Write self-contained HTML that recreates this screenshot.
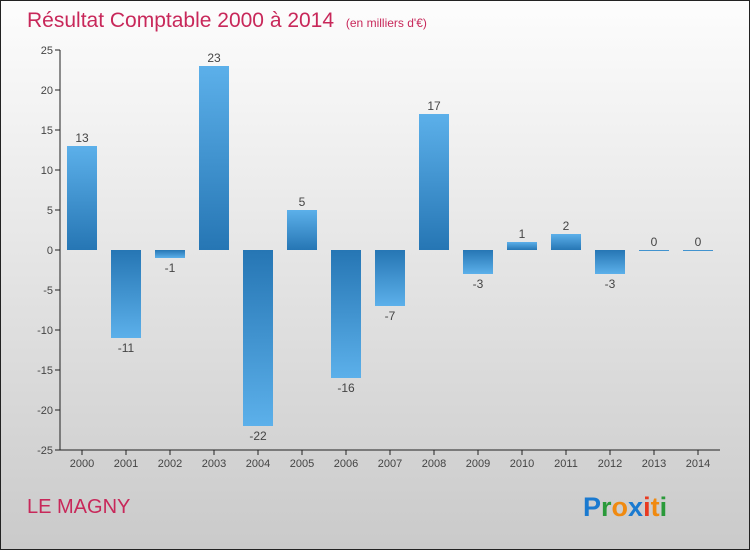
<!DOCTYPE html>
<html><head><meta charset="utf-8"><style>
body{margin:0;width:750px;height:550px;overflow:hidden}
svg{display:block;font-family:"Liberation Sans",sans-serif}
</style></head><body>
<svg id="c" width="750" height="550">
<defs>
<linearGradient id="bg" x1="0" y1="0" x2="0" y2="1"><stop offset="0" stop-color="#fdfdfd"/><stop offset="1" stop-color="#cacaca"/></linearGradient>
<linearGradient id="gp" x1="0" y1="0" x2="0" y2="1"><stop offset="0" stop-color="#5cb0ea"/><stop offset="1" stop-color="#2676b4"/></linearGradient>
<linearGradient id="gn" x1="0" y1="0" x2="0" y2="1"><stop offset="0" stop-color="#2676b4"/><stop offset="1" stop-color="#5cb0ea"/></linearGradient>
</defs>
<rect x="0.5" y="0.5" width="749" height="549" fill="url(#bg)" stroke="#222"/>
<text x="27" y="27" font-size="21" fill="#c8285a">Résultat Comptable 2000 à 2014 <tspan font-size="12" dx="6">(en milliers d'€)</tspan></text>
<text x="27" y="513" font-size="20" fill="#c8285a">LE MAGNY</text>
<g id="axes"></g><g id="bars"></g>
<text x="583" y="516" font-size="27" font-weight="bold"><tspan fill="#1a7ad0">P</tspan><tspan fill="#2a9a3a">r</tspan><tspan fill="#f08a10">o</tspan><tspan fill="#1a7ad0">x</tspan><tspan fill="#e83a20">i</tspan><tspan fill="#f08a10">t</tspan><tspan fill="#2a9a3a">i</tspan></text>
</svg>
<script>
const years=[2000,2001,2002,2003,2004,2005,2006,2007,2008,2009,2010,2011,2012,2013,2014];
const values=[13,-11,-1,23,-22,5,-16,-7,17,-3,1,2,-3,0,0];
const yTicks=[25,20,15,10,5,0,-5,-10,-15,-20,-25];
const NS="http://www.w3.org/2000/svg";
const y=v=>250-v*8, x=i=>82+i*44;
const ax=document.getElementById('axes'), bs=document.getElementById('bars');
function mk(t,a,p){const e=document.createElementNS(NS,t);for(const k in a)e.setAttribute(k,a[k]);p.appendChild(e);return e;}
let l=mk('line',{x1:60,y1:50,x2:60,y2:450,stroke:'#222'},ax);


l=mk('line',{x1:60,y1:450,x2:720,y2:450,stroke:'#222'},ax);


yTicks.forEach(v=>{
 mk('line',{x1:55,x2:60,y1:y(v),y2:y(v),stroke:'#222'},ax);
 const t=mk('text',{x:53,y:y(v)+4,'text-anchor':'end','font-size':11,fill:'#444'},ax);t.textContent=v;
 
 
});
years.forEach((yr,i)=>{
 mk('line',{x1:x(i),x2:x(i),y1:450,y2:455,stroke:'#222'},ax);
 const t=mk('text',{x:x(i),y:467,'text-anchor':'middle','font-size':11,fill:'#444'},ax);t.textContent=yr;
 
 
 const v=values[i];
 const top=Math.min(y(v),y(0)), h=Math.max(Math.abs(y(v)-y(0)),1);
 const r=mk('rect',{x:x(i)-15,y:top,width:30,height:h,fill:v>=0?'url(#gp)':'url(#gn)'},bs);
 
 
 const lb=mk('text',{x:x(i),y:v>=0?y(v)-4:y(v)+14,'text-anchor':'middle','font-size':12,fill:'#444'},bs);lb.textContent=v;
 
 
});
</script>
</body></html>
